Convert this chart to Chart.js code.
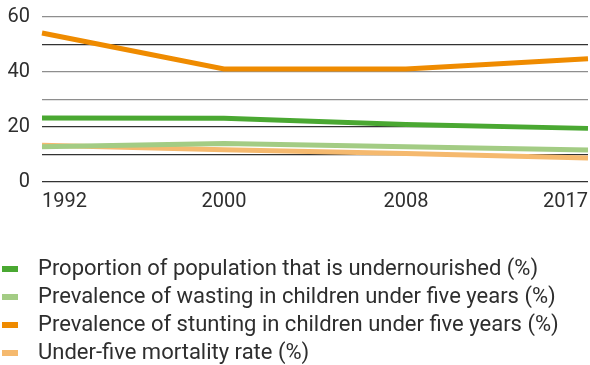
<!DOCTYPE html>
<html>
<head>
<meta charset="utf-8">
<script src="https://cdn.jsdelivr.net/npm/chart.js@4/dist/chart.umd.min.js"></script>
<style>
  html, body { margin: 0; padding: 0; background: #fff; overflow: hidden; }
  #wrap { width: 590px; height: 365px; position: relative; overflow: hidden; }
  #inner { position: absolute; left: 0; top: -7px; width: 596px; height: 372px; }
</style>
</head>
<body>
<div id="wrap"><div id="inner"><canvas id="c"></canvas></div></div>
<script>
// Survey years along the x axis
const years = ['1992', '2000', '2008', '2017'];

// Indicator values, in percent
const undernourished = [23.3, 23.2, 20.9, 19.5];
const wasting = [12.8, 14.0, 12.8, 11.6];
const stunting = [54.2, 41.1, 41.1, 44.8];
const under5Mortality = [13.4, 11.7, 10.4, 8.7];

const seriesNames = [
  'Proportion of population that is undernourished (%)',
  'Prevalence of wasting in children under five years (%)',
  'Prevalence of stunting in children under five years (%)',
  'Under-five mortality rate (%)'
];
const seriesColors = ['#4aa832', '#a3cc84', '#ef8b00', '#f5b96e'];

// Small bar swatch for each legend entry, padded on the right for spacing
function swatch(color) {
  const cv = document.createElement('canvas');
  cv.width = 29; cv.height = 6;
  const g = cv.getContext('2d');
  g.fillStyle = color;
  g.fillRect(0, 0, 16, 6);
  return cv;
}

const seriesValues = [undernourished, wasting, stunting, under5Mortality];

new Chart(document.getElementById('c'), {
  type: 'line',
  data: {
    labels: years,
    datasets: seriesValues.map((vals, i) => ({
      label: seriesNames[i],
      data: vals,
      borderColor: seriesColors[i],
      backgroundColor: seriesColors[i],
      borderWidth: 5,
      pointRadius: 0,
      tension: 0,
      fill: false,
      pointStyle: swatch(seriesColors[i])
    }))
  },
  options: {
    responsive: true,
    maintainAspectRatio: false,
    animation: false,
    layout: { padding: { left: 0, right: 0, top: 0, bottom: -9 } },
    plugins: {
      tooltip: { enabled: false },
      legend: {
        position: 'bottom',
        align: 'start',
        labels: {
          usePointStyle: true,
          pointStyleWidth: 21,
          boxWidth: 21,
          boxHeight: 6,
          padding: 6,
          color: '#2e2e2e',
          font: { family: 'Roboto', size: 22 }
        }
      }
    },
    scales: {
      x: {
        type: 'category',
        offset: false,
        grid: { display: false, drawTicks: false },
        border: { display: false },
        afterFit: (s) => { s.height = 70; },
        ticks: {
          align: 'inner',
          color: '#2e2e2e',
          padding: 8,
          maxRotation: 0,
          font: { family: 'Roboto', size: 20 }
        }
      },
      y: {
        min: 0,
        max: 60,
        border: { display: false },
        afterFit: (s) => { s.width = 42; },
        grid: {
          drawTicks: false,
          lineWidth: 1.3,
          color: (ctx) => [60, 40, 30].includes(ctx.tick.value) ? '#8e8e8e' : '#333'
        },
        ticks: {
          stepSize: 10,
          padding: 12,
          color: '#2e2e2e',
          font: { family: 'Roboto', size: 20 },
          callback: (v) => (v % 20 === 0 ? v : '')
        }
      }
    }
  }
});
</script>
</body>
</html>
